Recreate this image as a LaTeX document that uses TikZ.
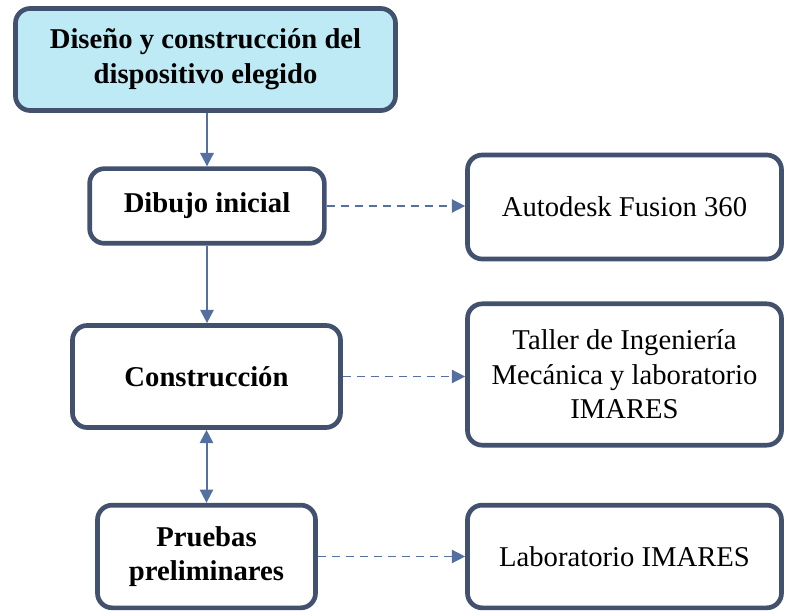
\documentclass[tikz,border=0pt]{standalone}
\usepackage{fontspec}
\setmainfont{Liberation Serif}
\usepackage{xcolor}
\usetikzlibrary{arrows.meta}

\definecolor{borde}{HTML}{42526E}
\definecolor{flecha}{HTML}{5470A0}
\definecolor{celeste}{HTML}{BDEAF4}

\begin{document}
\begin{tikzpicture}[x=0.75pt, y=-0.75pt,
  caja/.style={draw=borde, line width=3.5pt, rounded corners=11pt,
    inner sep=0pt, align=center, font=\fontsize{21.5}{26}\selectfont},
  paso/.style={caja, font=\fontsize{21.5}{26}\selectfont\bfseries},
  flujo/.style={draw=flecha, line width=1.5pt, -{Triangle[length=10pt,width=10pt]}},
  apoyo/.style={flujo, line width=1.1pt, dash pattern=on 6pt off 4.5pt}]

\useasboundingbox (0,0) rectangle (786,613);

% Columna de pasos
\node[paso, fill=celeste, minimum width=285pt, minimum height=76.5pt] (dis) at (205.5,59.5)
  {Diseño y construcción del\\dispositivo elegido};
\node[paso, minimum width=176pt, minimum height=56pt] (dib) at (207,206) {Dibujo inicial};
\node[paso, minimum width=201pt, minimum height=76.5pt] (con) at (206.5,376.5) {Construcción};
\node[paso, minimum width=163.5pt, minimum height=77pt] (pru) at (206.5,556.5)
  {Pruebas\\preliminares};

% Columna de recursos
\node[caja, minimum width=235.5pt, minimum height=78pt] (aut) at (624.5,207) {Autodesk Fusion 360};
\node[caja, minimum width=235.5pt, minimum height=106pt] (tal) at (624.5,374.5)
  {Taller de Ingeniería\\Mecánica y laboratorio\\IMARES};
\node[caja, minimum width=235.5pt, minimum height=77pt] (lab) at (624.5,556.5) {Laboratorio IMARES};

% flechas
\draw[flujo] (dis.south -| dib.north) -- (dib.north);
\draw[flujo] (dib.south) -- (dib.south |- con.north);
\draw[flujo, {Triangle[length=10pt,width=10pt]}-{Triangle[length=10pt,width=10pt]}] (con.south) -- (con.south |- pru.north);

\draw[apoyo] (dib.east) -- (dib.east -| aut.west);
\draw[apoyo] (con.east) -- (con.east -| tal.west);
\draw[apoyo] (pru.east) -- (pru.east -| lab.west);

\end{tikzpicture}
\end{document}
